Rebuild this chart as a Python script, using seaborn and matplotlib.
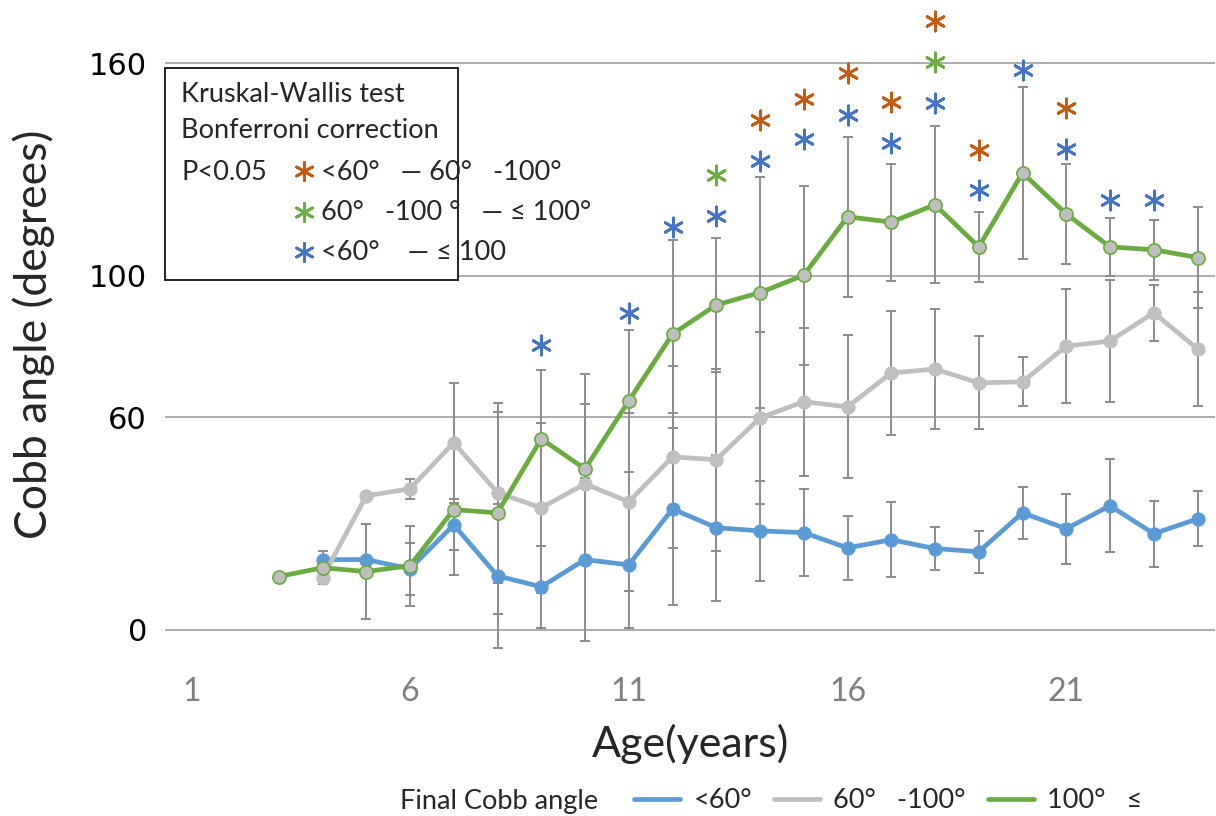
import numpy as np
import pandas as pd
import seaborn as sns
import matplotlib.pyplot as plt
from matplotlib.lines import Line2D
from matplotlib.patches import Rectangle

# Cobb angle by age, mean and SD per final-angle group

ages = list(range(3, 25))
nan = np.nan

blue_mean = [nan, 19.8, 19.8, 17.2, 29.6, 15.2, 12.1, 19.8, 18.3, 34.1, 28.8, 27.9,
             27.4, 23.1, 25.4, 22.9, 22.0, 33.0, 28.5, 35.0, 27.1, 31.3]
blue_sd = [nan, nan, nan, 7.3, 7.2, 20.3, 11.6, 22.9, 17.8, 27.1, 20.6, 14.1,
           12.3, 9.1, 10.6, 6.0, 6.0, 7.3, 9.9, 13.1, 9.3, 7.8]

gray_mean = [nan, 14.7, 37.8, 39.8, 52.8, 38.7, 34.4, 41.2, 36.1, 48.8, 48.0, 59.8,
             64.4, 62.9, 72.5, 73.6, 69.7, 70.0, 80.1, 81.5, 89.5, 79.3]
gray_sd = [nan, nan, nan, 2.8, 16.9, 25.4, 24.0, 22.6, 25.1, 25.7, 25.7, 24.3,
           20.9, 20.2, 17.6, 17.0, 13.1, 6.9, 16.1, 17.3, 7.9, 16.1]

green_mean = [15.0, 17.5, 16.4, 18.1, 33.9, 33.0, 53.9, 45.4, 64.6, 83.5, 91.7, 95.2,
              100.1, 116.6, 115.1, 120.0, 108.1, 129.0, 117.4, 108.1, 107.3, 105.1]
green_sd = [nan, 4.7, 13.4, 11.3, 18.6, 28.5, 19.5, 26.8, 20.0, 26.5, 18.9, 32.7,
            25.3, 22.6, 16.5, 22.2, 9.9, 24.3, 14.1, 8.1, 8.5, 14.2]

# significance asterisks (age, height)
orange_star_age = [14, 15, 16, 17, 18, 19, 21]
orange_star_y = [143.9, 149.8, 157.2, 149.0, 171.8, 135.4, 147.3]
green_star_age = [13, 18]
green_star_y = [128.4, 160.3]
blue_star_age = [9, 11, 12, 13, 14, 15, 16, 17, 18, 19, 20, 21, 22, 23]
blue_star_y = [80.4, 89.4, 113.8, 116.8, 132.3, 138.5, 145.3, 137.4, 148.7, 124.2,
               158.0, 135.7, 121.3, 121.3]

series_names = ["<60°", "60°   -100°", "100°   ≤"]
box_lines = ["<60°   — 60°   -100°", "60°   -100 °   — ≤ 100°", "<60°    — ≤ 100"]

C_BLUE = "#5b9bd5"
C_GRAY = "#bfbfbf"
C_GREEN = "#6aac3f"
C_ORANGE = "#c55a11"
C_STAR_BLUE = "#4472c4"
C_ERR = "#8c8c8c"

sns.set_style("white")
plt.rcParams["font.family"] = ["Lato", "DejaVu Sans"]

fig = plt.figure(figsize=(12.16, 8.16), dpi=100)
ax = fig.add_axes([165 / 1216, 158 / 816, 1050 / 1216, 648 / 816])


def px(x, y):
    return x / 1216, 1 - y / 816


# error bars behind the lines
for m, s in [(blue_mean, blue_sd), (gray_mean, gray_sd), (green_mean, green_sd)]:
    ax.errorbar(ages, m, yerr=s, fmt="none", ecolor=C_ERR, elinewidth=1.4,
                capsize=3.6, capthick=1.4, zorder=1)

df = pd.DataFrame({"age": ages, "blue": blue_mean, "gray": gray_mean, "green": green_mean})

sns.lineplot(data=df, x="age", y="blue", color=C_BLUE, linewidth=3.4, marker="o",
             markersize=9.5, markerfacecolor=C_BLUE, markeredgecolor=C_BLUE, ax=ax, zorder=3)
sns.lineplot(data=df, x="age", y="gray", color=C_GRAY, linewidth=3.4, marker="o",
             markersize=9.5, markerfacecolor=C_GRAY, markeredgecolor=C_GRAY, ax=ax, zorder=4)
sns.lineplot(data=df, x="age", y="green", color=C_GREEN, linewidth=3.4, marker="o",
             markersize=9.5, markerfacecolor=C_GRAY, markeredgecolor=C_GREEN,
             markeredgewidth=1.2, ax=ax, zorder=5)

star = dict(marker=(6, 2, 0), s=190, linewidths=2.0, clip_on=False, zorder=6)
ax.scatter(orange_star_age, orange_star_y, color=C_ORANGE, **star)
ax.scatter(green_star_age, green_star_y, color=C_GREEN, **star)
ax.scatter(blue_star_age, blue_star_y, color=C_STAR_BLUE, **star)

ax.set_xlim(0.4, 24.4)
ax.set_ylim(-8, 175)
ax.set_xticks([1, 6, 11, 16, 21])
ax.set_yticks([0, 60, 100, 160])
ax.yaxis.grid(True, color="#a6a6a6", linewidth=1.3)
ax.xaxis.grid(False)
for sp in ax.spines.values():
    sp.set_visible(False)
ax.tick_params(axis="y", length=7, width=1.0, color="#a6a6a6", pad=6,
               labelsize=22, labelcolor="black")
ax.tick_params(axis="x", length=0, pad=14, labelsize=23, labelcolor="#7f7f7f")
for lb in ax.get_yticklabels():
    lb.set_family("DejaVu Sans")
ax.set_xlabel("Age(years)", fontsize=31, labelpad=12)
ax.set_ylabel("Cobb angle (degrees)", fontsize=32, labelpad=24)

# annotation box
ax.add_patch(Rectangle(px(165, 280), 293 / 1216, 212 / 816, transform=fig.transFigure,
                       facecolor="white", edgecolor="#222222", linewidth=1.4,
                       zorder=7, clip_on=False))
tk = dict(fontsize=19.5, va="center", ha="left", zorder=8)
fig.text(*px(181, 95), "Kruskal-Wallis test", **tk)
fig.text(*px(181, 131), "Bonferroni correction", **tk)
fig.text(*px(181, 172), "P<0.05", **tk)
for (yy, col, txt) in [(172, C_ORANGE, box_lines[0]), (213, C_GREEN, box_lines[1]),
                       (253, C_STAR_BLUE, box_lines[2])]:
    ax.scatter([304 / 1216], [1 - (yy - 1) / 816], transform=fig.transFigure,
               color=col, marker=(6, 2, 0), s=170, linewidths=2.0, clip_on=False, zorder=9)
    fig.text(*px(321, yy), txt, **tk)

# bottom legend
fig.text(*px(400, 801), "Final Cobb angle", fontsize=19.5, va="center", ha="left")
handles = [Line2D([], [], color=c, linewidth=3.4) for c in (C_BLUE, C_GRAY, C_GREEN)]
fig.legend(handles, series_names, loc="center left", bbox_to_anchor=px(634, 801),
           ncol=3, frameon=False, fontsize=19.5, handlelength=1.7, handletextpad=0.5,
           columnspacing=0.8, borderaxespad=0, borderpad=0)

fig.savefig("out.png", dpi=100)
